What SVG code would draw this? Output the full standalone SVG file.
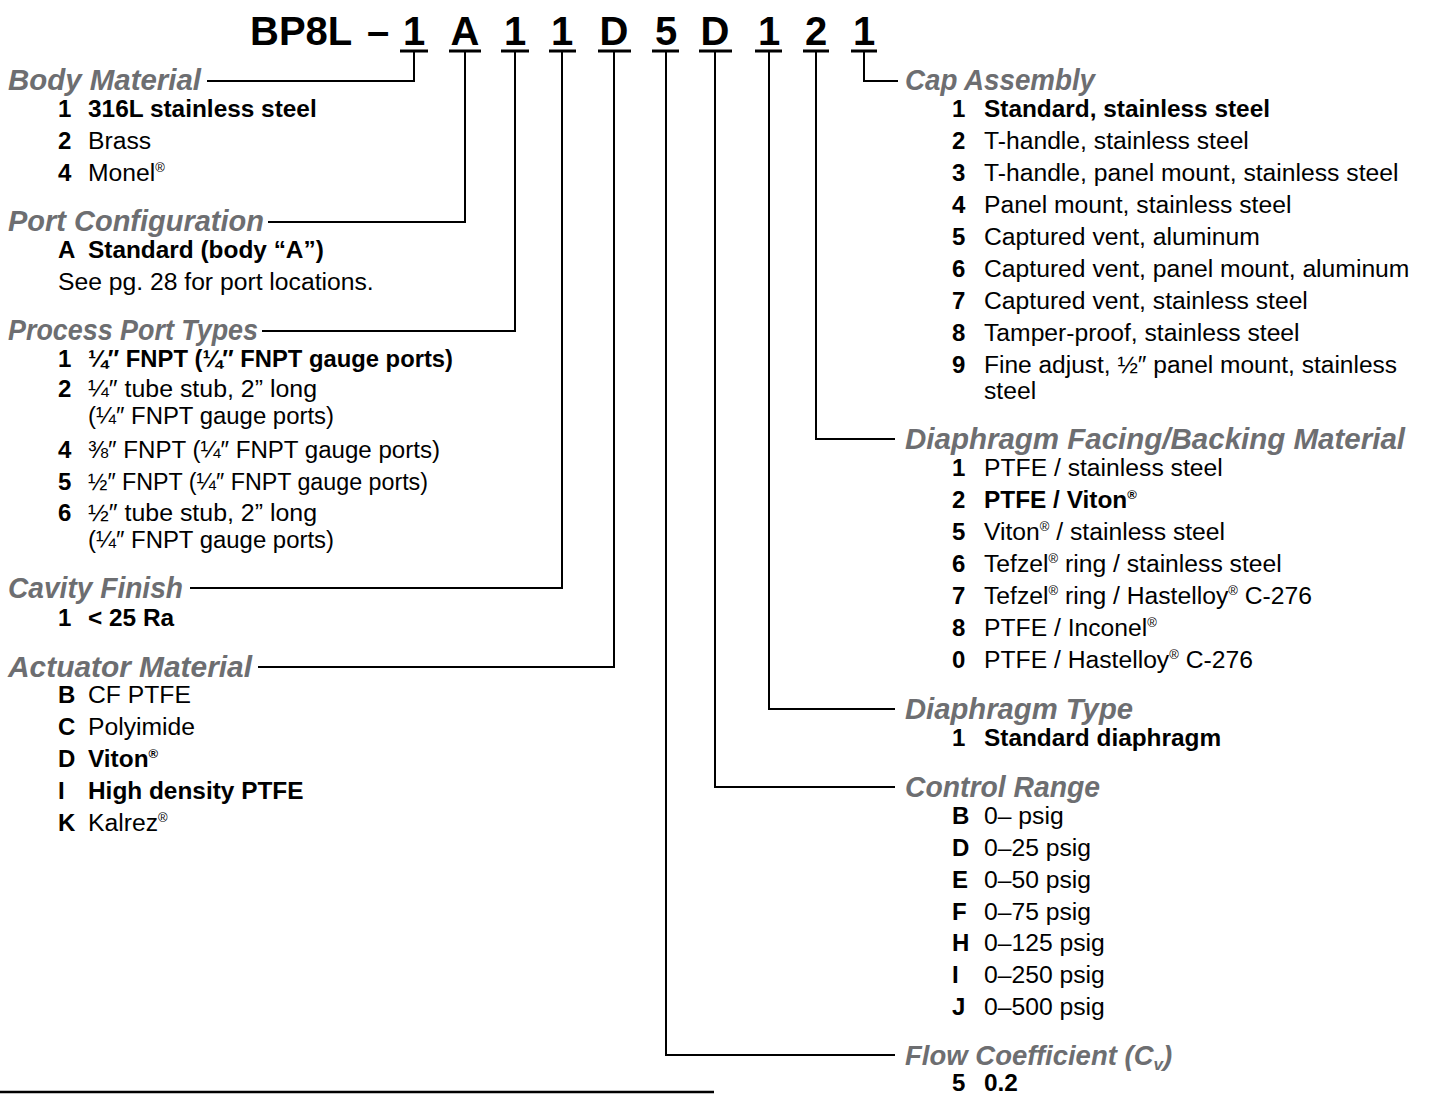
<svg xmlns="http://www.w3.org/2000/svg" width="1440" height="1095" viewBox="0 0 1440 1095">
<style>
text{font-family:"Liberation Sans",Arial,sans-serif;fill:#000}
.title{font-size:40px;font-weight:bold}
.h{font-size:29px;font-weight:bold;font-style:italic;fill:#6d6e71}
.c{font-size:24px;font-weight:bold}
.t{font-size:24.7px}
.tb{font-size:24.4px;font-weight:bold}
.ul{stroke:#000;stroke-width:3;fill:none}
.conn path{stroke:#000;stroke-width:2;fill:none}
</style>
<rect width="1440" height="1095" fill="#fff"/>

<g id="title">
<text class="title" x="250" y="45">BP8L</text>
<text class="title" x="378" y="45" text-anchor="middle">–</text>
<text class="title" x="414" y="45" text-anchor="middle">1</text>
<text class="title" x="465" y="45" text-anchor="middle">A</text>
<text class="title" x="515" y="45" text-anchor="middle">1</text>
<text class="title" x="562" y="45" text-anchor="middle">1</text>
<text class="title" x="614" y="45" text-anchor="middle">D</text>
<text class="title" x="666" y="45" text-anchor="middle">5</text>
<text class="title" x="715" y="45" text-anchor="middle">D</text>
<text class="title" x="769" y="45" text-anchor="middle">1</text>
<text class="title" x="816" y="45" text-anchor="middle">2</text>
<text class="title" x="864" y="45" text-anchor="middle">1</text>
<path class="ul" d="M400 51H428M449 51H481M501 51H529M549 51H576M598 51H631M652 51H679M699 51H732M755 51H782M803 51H829M851 51H877"/>
</g>

<g id="connectors" class="conn">
<path d="M414 51V81H207"/>
<path d="M465 51V222H268"/>
<path d="M515 51V331H262"/>
<path d="M562 51V588H190"/>
<path d="M614 51V667H258"/>
<path d="M666 51V1055H895"/>
<path d="M715 51V787H895"/>
<path d="M769 51V709H895"/>
<path d="M816 51V439H895"/>
<path d="M864 51V81H898"/>
</g>

<g id="body-material">
<text class="h" x="8" y="90" textLength="193" lengthAdjust="spacingAndGlyphs">Body Material</text>
<text class="c" x="58" y="117">1</text><text class="tb" x="88" y="117">316L stainless steel</text>
<text class="c" x="58" y="149">2</text><text class="t" x="88" y="149">Brass</text>
<text class="c" x="58" y="181">4</text><text class="t" x="88" y="181">Monel<tspan font-size="13" dy="-9">®</tspan></text>
</g>

<g id="port-configuration">
<text class="h" x="8" y="231" textLength="256" lengthAdjust="spacingAndGlyphs">Port Configuration</text>
<text class="c" x="58" y="258">A</text><text class="tb" x="88" y="258">Standard (body “A”)</text>
<text class="t" x="58" y="290">See pg. 28 for port locations.</text>
</g>

<g id="process-port-types">
<text class="h" x="8" y="340" textLength="250" lengthAdjust="spacingAndGlyphs">Process Port Types</text>
<text class="c" x="58" y="367">1</text><text class="tb" x="88" y="367" textLength="365" lengthAdjust="spacingAndGlyphs">¼″ FNPT (¼″ FNPT gauge ports)</text>
<text class="c" x="58" y="397">2</text><text class="t" x="88" y="397" textLength="229" lengthAdjust="spacingAndGlyphs">¼″ tube stub, 2” long</text>
<text class="t" x="88" y="424" textLength="246" lengthAdjust="spacingAndGlyphs">(¼″ FNPT gauge ports)</text>
<text class="c" x="58" y="458">4</text><text class="t" x="88" y="458" textLength="352" lengthAdjust="spacingAndGlyphs">⅜″ FNPT (¼″ FNPT gauge ports)</text>
<text class="c" x="58" y="490">5</text><text class="t" x="88" y="490" textLength="340" lengthAdjust="spacingAndGlyphs">½″ FNPT (¼″ FNPT gauge ports)</text>
<text class="c" x="58" y="521">6</text><text class="t" x="88" y="521" textLength="229" lengthAdjust="spacingAndGlyphs">½″ tube stub, 2” long</text>
<text class="t" x="88" y="548" textLength="246" lengthAdjust="spacingAndGlyphs">(¼″ FNPT gauge ports)</text>
</g>

<g id="cavity-finish">
<text class="h" x="8" y="598" textLength="175" lengthAdjust="spacingAndGlyphs">Cavity Finish</text>
<text class="c" x="58" y="626">1</text><text class="tb" x="88" y="626">&lt; 25 Ra</text>
</g>

<g id="actuator-material">
<text class="h" x="8" y="677" textLength="244" lengthAdjust="spacingAndGlyphs">Actuator Material</text>
<text class="c" x="58" y="703">B</text><text class="t" x="88" y="703">CF PTFE</text>
<text class="c" x="58" y="735">C</text><text class="t" x="88" y="735">Polyimide</text>
<text class="c" x="58" y="767">D</text><text class="tb" x="88" y="767">Viton<tspan font-size="13" dy="-9">®</tspan></text>
<text class="c" x="58" y="799">I</text><text class="tb" x="88" y="799">High density PTFE</text>
<text class="c" x="58" y="831">K</text><text class="t" x="88" y="831">Kalrez<tspan font-size="13" dy="-9">®</tspan></text>
</g>

<g id="cap-assembly">
<text class="h" x="905" y="90" textLength="190" lengthAdjust="spacingAndGlyphs">Cap Assembly</text>
<text class="c" x="952" y="117">1</text><text class="tb" x="984" y="117">Standard, stainless steel</text>
<text class="c" x="952" y="149">2</text><text class="t" x="984" y="149">T-handle, stainless steel</text>
<text class="c" x="952" y="181">3</text><text class="t" x="984" y="181">T-handle, panel mount, stainless steel</text>
<text class="c" x="952" y="213">4</text><text class="t" x="984" y="213">Panel mount, stainless steel</text>
<text class="c" x="952" y="245">5</text><text class="t" x="984" y="245">Captured vent, aluminum</text>
<text class="c" x="952" y="277">6</text><text class="t" x="984" y="277">Captured vent, panel mount, aluminum</text>
<text class="c" x="952" y="309">7</text><text class="t" x="984" y="309">Captured vent, stainless steel</text>
<text class="c" x="952" y="341">8</text><text class="t" x="984" y="341">Tamper-proof, stainless steel</text>
<text class="c" x="952" y="373">9</text><text class="t" x="984" y="373" textLength="413" lengthAdjust="spacingAndGlyphs">Fine adjust, ½″ panel mount, stainless</text>
<text class="t" x="984" y="399">steel</text>
</g>

<g id="diaphragm-facing">
<text class="h" x="905" y="449" textLength="500" lengthAdjust="spacingAndGlyphs">Diaphragm Facing/Backing Material</text>
<text class="c" x="952" y="476">1</text><text class="t" x="984" y="476">PTFE / stainless steel</text>
<text class="c" x="952" y="508">2</text><text class="tb" x="984" y="508">PTFE / Viton<tspan font-size="13" dy="-9">®</tspan></text>
<text class="c" x="952" y="540">5</text><text class="t" x="984" y="540">Viton<tspan font-size="13" dy="-9">®</tspan><tspan dy="9"> / stainless steel</tspan></text>
<text class="c" x="952" y="572">6</text><text class="t" x="984" y="572">Tefzel<tspan font-size="13" dy="-9">®</tspan><tspan dy="9"> ring / stainless steel</tspan></text>
<text class="c" x="952" y="604">7</text><text class="t" x="984" y="604">Tefzel<tspan font-size="13" dy="-9">®</tspan><tspan dy="9"> ring / Hastelloy</tspan><tspan font-size="13" dy="-9">®</tspan><tspan dy="9"> C-276</tspan></text>
<text class="c" x="952" y="636">8</text><text class="t" x="984" y="636">PTFE / Inconel<tspan font-size="13" dy="-9">®</tspan></text>
<text class="c" x="952" y="668">0</text><text class="t" x="984" y="668">PTFE / Hastelloy<tspan font-size="13" dy="-9">®</tspan><tspan dy="9"> C-276</tspan></text>
</g>

<g id="diaphragm-type">
<text class="h" x="905" y="719" textLength="228" lengthAdjust="spacingAndGlyphs">Diaphragm Type</text>
<text class="c" x="952" y="746">1</text><text class="tb" x="984" y="746">Standard diaphragm</text>
</g>

<g id="control-range">
<text class="h" x="905" y="797" textLength="195" lengthAdjust="spacingAndGlyphs">Control Range</text>
<text class="c" x="952" y="824">B</text><text class="t" x="984" y="824">0– psig</text>
<text class="c" x="952" y="856">D</text><text class="t" x="984" y="856">0–25 psig</text>
<text class="c" x="952" y="888">E</text><text class="t" x="984" y="888">0–50 psig</text>
<text class="c" x="952" y="920">F</text><text class="t" x="984" y="920">0–75 psig</text>
<text class="c" x="952" y="951">H</text><text class="t" x="984" y="951">0–125 psig</text>
<text class="c" x="952" y="983">I</text><text class="t" x="984" y="983">0–250 psig</text>
<text class="c" x="952" y="1015">J</text><text class="t" x="984" y="1015">0–500 psig</text>
</g>

<g id="flow-coefficient">
<text class="h" x="905" y="1065" style="font-size:27.5px">Flow Coefficient (C<tspan style="font-size:17px" dy="5">v</tspan><tspan dy="-5">)</tspan></text>
<text class="c" x="952" y="1091">5</text><text class="tb" x="984" y="1091">0.2</text>
</g>

<g id="footer-rule">
<path d="M0 1092H714" stroke="#000" stroke-width="2.5"/>
</g>
</svg>
